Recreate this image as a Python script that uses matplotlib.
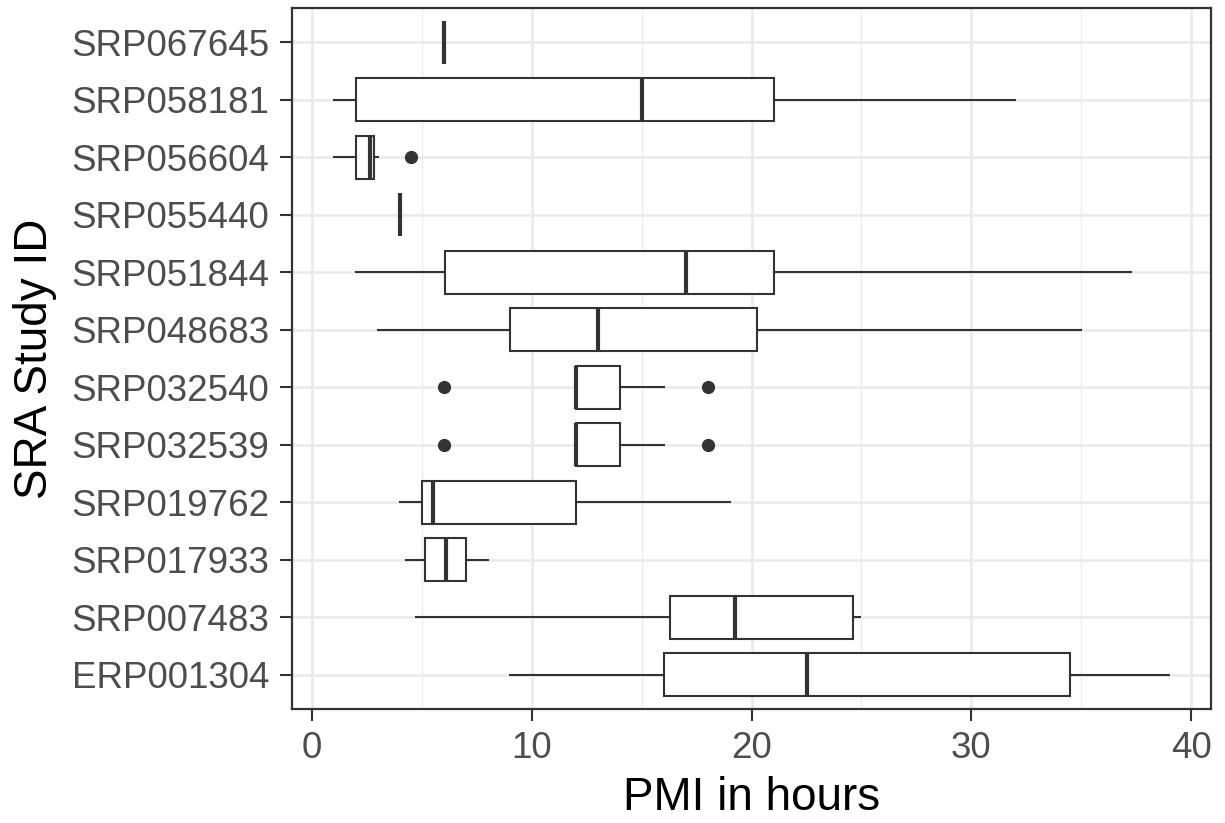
import numpy as np
import matplotlib
matplotlib.use('Agg')
import matplotlib.pyplot as plt

# PMI summary statistics per study (bottom to top on the y axis)
studies = ['ERP001304', 'SRP007483', 'SRP017933', 'SRP019762', 'SRP032539',
           'SRP032540', 'SRP048683', 'SRP051844', 'SRP055440', 'SRP056604',
           'SRP058181', 'SRP067645']
whis_lo = [9.0, 4.75, 4.3, 4.0, 12.0, 12.0, 3.0, 2.0, 4.0, 1.0, 1.0, 6.0]
q1 = [16.0, 16.3, 5.15, 5.0, 12.0, 12.0, 9.0, 6.05, 4.0, 2.0, 2.0, 6.0]
median = [22.5, 19.25, 6.1, 5.5, 12.0, 12.0, 13.0, 17.0, 4.0, 2.65, 15.0, 6.0]
q3 = [34.5, 24.6, 7.0, 12.0, 14.0, 14.0, 20.25, 21.0, 4.0, 2.85, 21.0, 6.0]
whis_hi = [39.0, 24.95, 8.0, 19.0, 16.0, 16.0, 35.0, 37.25, 4.0, 3.0, 32.0, 6.0]
outliers = [[], [], [], [], [6.0, 18.0], [6.0, 18.0], [], [], [], [4.5], [], []]

x_ticks = [0, 10, 20, 30, 40]

dark = '#333333'

stats = []
for i, name in enumerate(studies):
    stats.append({'label': name, 'whislo': whis_lo[i], 'q1': q1[i],
                  'med': median[i], 'q3': q3[i], 'whishi': whis_hi[i],
                  'fliers': outliers[i]})

fig = plt.figure(figsize=(12.25, 8.23), dpi=100)
ax = fig.add_axes([0.2384, 0.1385, 0.7502, 0.8518])

# grid first so boxes sit on top
for v in x_ticks:
    ax.axvline(v, color='#EBEBEB', lw=2.0, zorder=0)
for v in [5, 15, 25, 35]:
    ax.axvline(v, color='#EBEBEB', lw=1.0, zorder=0)
pos = np.arange(1, len(studies) + 1)
for p in pos:
    ax.axhline(p, color='#EBEBEB', lw=2.0, zorder=0)

ax.bxp(stats, positions=pos, orientation='horizontal', widths=0.75,
       showcaps=False, patch_artist=True,
       boxprops=dict(facecolor='white', edgecolor=dark, linewidth=1.5),
       whiskerprops=dict(color=dark, linewidth=1.5),
       medianprops=dict(color=dark, linewidth=3.0, solid_capstyle='butt'),
       flierprops=dict(marker='o', markerfacecolor=dark, markeredgecolor=dark,
                       markersize=8.5, linestyle='none'),
       zorder=2)

ax.set_xlim(-0.9, 40.9)
ax.set_ylim(0.4, len(studies) + 0.6)
ax.set_xticks(x_ticks)
ax.set_xticklabels([str(t) for t in x_ticks])
ax.set_yticks(pos)
ax.set_yticklabels(studies)

ax.tick_params(axis='both', colors=dark, width=1.5, length=8.5,
               labelsize=26.5, labelcolor='#4D4D4D')
ax.tick_params(axis='y', pad=8)
ax.tick_params(axis='x', pad=7)
for lbl in ax.get_xticklabels() + ax.get_yticklabels():
    lbl.set_family('Liberation Sans')

for s in ax.spines.values():
    s.set_color(dark)
    s.set_linewidth(1.6)

ax.set_xlabel('PMI in hours', fontsize=33, family='Liberation Sans', color='black')
ax.set_ylabel('SRA Study ID', fontsize=33, family='Liberation Sans', color='black')
ax.xaxis.set_label_coords(0.5, -0.095)
ax.xaxis.label.set_va('top')
ax.yaxis.set_label_coords(-0.256, 0.5)

fig.savefig('out.png', dpi=100)
